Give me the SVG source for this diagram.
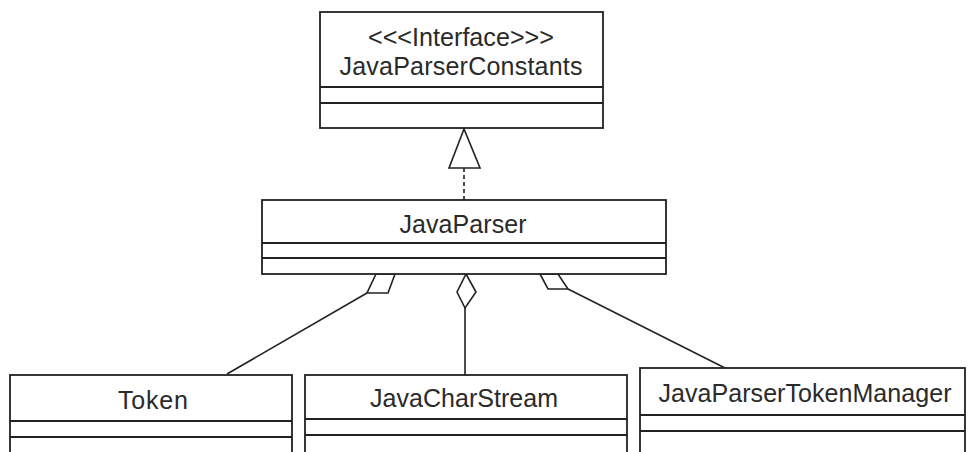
<svg xmlns="http://www.w3.org/2000/svg" width="968" height="452" viewBox="0 0 968 452">
  <style>
    .box { fill: #ffffff; stroke: #222222; stroke-width: 1.8; }
    .div { stroke: #222222; stroke-width: 1.8; }
    .lbl { font-family: "Liberation Sans", Arial, sans-serif; font-size: 25px; fill: #2a2a2a; text-anchor: middle; }
    .edge { fill: none; stroke: #222222; stroke-width: 1.6; }
    .head { fill: #ffffff; stroke: #222222; stroke-width: 1.6; stroke-linejoin: miter; }
  </style>
  <rect width="968" height="452" fill="#ffffff"/>

  <!-- connectors -->
  <g id="connectors">
    <!-- realization: JavaParser implements JavaParserConstants -->
    <line class="edge" x1="464" y1="200" x2="464" y2="168" stroke-dasharray="4 3"/>
    <polygon class="head" points="464,129 449,168 480,168"/>
    <!-- aggregation: Token -->
    <polyline class="edge" points="227,374 367,293"/>
    <polygon class="head" points="376,274 395,274 388,293 367,293"/>
    <!-- aggregation: JavaCharStream -->
    <line class="edge" x1="465" y1="308" x2="465" y2="375"/>
    <polygon class="head" points="466,274 476,292 465,308 457,292"/>
    <!-- aggregation: JavaParserTokenManager -->
    <line class="edge" x1="568" y1="289" x2="727" y2="369"/>
    <polygon class="head" points="540,274 558,274 568,289 548,289"/>
  </g>

  <g id="JavaParserConstants">
    <rect class="box" x="320" y="12" width="283" height="116"/>
    <line class="div" x1="320" y1="87" x2="603" y2="87"/>
    <line class="div" x1="320" y1="103" x2="603" y2="103"/>
    <text class="lbl" x="461" y="46" textLength="186" lengthAdjust="spacingAndGlyphs">&lt;&lt;&lt;Interface&gt;&gt;&gt;</text>
    <text class="lbl" x="461" y="75" textLength="243" lengthAdjust="spacing">JavaParserConstants</text>
  </g>

  <g id="JavaParser">
    <rect class="box" x="262" y="200" width="404" height="74"/>
    <line class="div" x1="262" y1="243" x2="666" y2="243"/>
    <line class="div" x1="262" y1="258" x2="666" y2="258"/>
    <text class="lbl" x="463" y="233" textLength="127" lengthAdjust="spacing">JavaParser</text>
  </g>

  <g id="Token">
    <rect class="box" x="10" y="375" width="282" height="90"/>
    <line class="div" x1="10" y1="421" x2="292" y2="421"/>
    <line class="div" x1="10" y1="437" x2="292" y2="437"/>
    <text class="lbl" x="153" y="409" textLength="70" lengthAdjust="spacing">Token</text>
  </g>

  <g id="JavaCharStream">
    <rect class="box" x="305" y="375" width="322" height="90"/>
    <line class="div" x1="305" y1="419" x2="627" y2="419"/>
    <line class="div" x1="305" y1="435" x2="627" y2="435"/>
    <text class="lbl" x="464" y="407" textLength="188" lengthAdjust="spacing">JavaCharStream</text>
  </g>

  <g id="JavaParserTokenManager">
    <rect class="box" x="640" y="368" width="325" height="97"/>
    <line class="div" x1="640" y1="415" x2="965" y2="415"/>
    <line class="div" x1="640" y1="431" x2="965" y2="431"/>
    <text class="lbl" x="805" y="402" textLength="293" lengthAdjust="spacing">JavaParserTokenManager</text>
  </g>
</svg>
